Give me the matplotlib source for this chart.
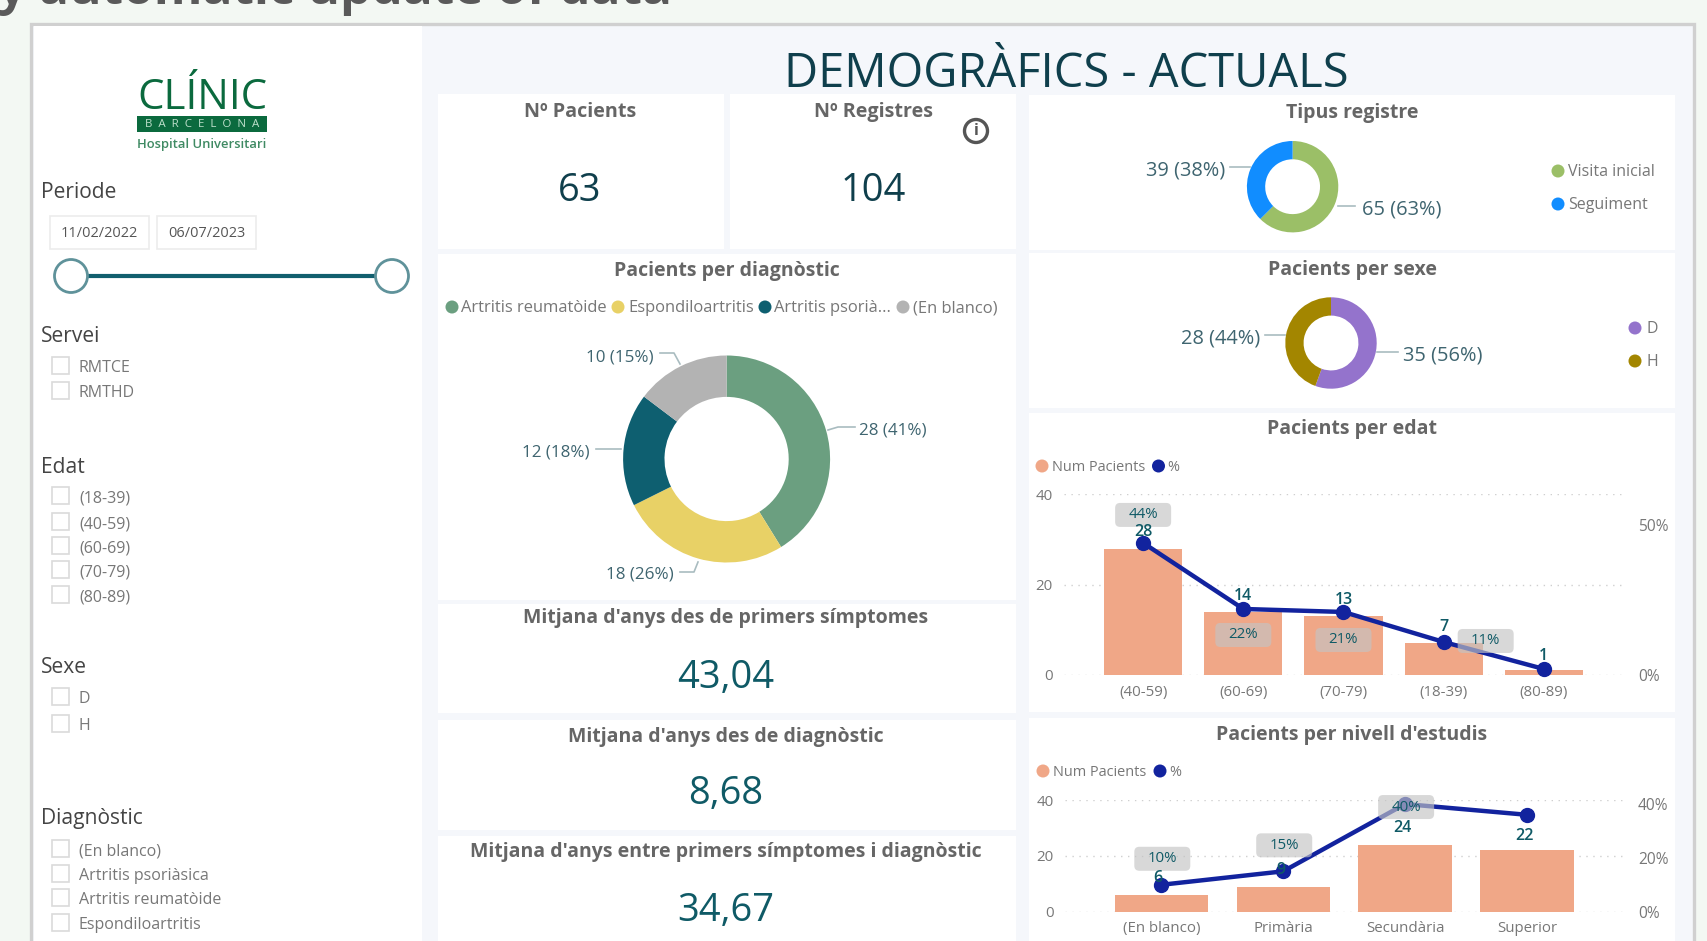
import matplotlib
matplotlib.use("Agg")
import matplotlib.pyplot as plt
from matplotlib.patches import Rectangle, FancyBboxPatch, Circle
from matplotlib.transforms import IdentityTransform

plt.rcParams['font.family'] = ['Open Sans', 'DejaVu Sans']

W, H = 1707, 941

# ----------------- data ----------------------------------#
kpi_titles = ["Nº Pacients", "Nº Registres"]
kpi_values = ["63", "104"]
avg_titles = ["Mitjana d'anys des de primers símptomes",
              "Mitjana d'anys des de diagnòstic",
              "Mitjana d'anys entre primers símptomes i diagnòstic"]
avg_values = ["43,04", "8,68", "34,67"]

diag_names = ["Artritis reumatòide", "Espondiloartritis", "Artritis psorià...", "(En blanco)"]
diag_values = [28, 18, 12, 10]
diag_pct = [41, 26, 18, 15]
diag_colors = ["#6b9f80", "#e8d166", "#0e5f70", "#b3b3b3"]

tipus_names = ["Visita inicial", "Seguiment"]
tipus_values = [65, 39]
tipus_pct = [63, 38]
tipus_colors = ["#9bbf67", "#118dff"]

sexe_names = ["D", "H"]
sexe_values = [35, 28]
sexe_pct = [56, 44]
sexe_colors = ["#9473cc", "#a38600"]

edat_cats = ["(40-59)", "(60-69)", "(70-79)", "(18-39)", "(80-89)"]
edat_num = [28, 14, 13, 7, 1]
edat_pct = [44, 22, 21, 11, 2]
edat_pct_labels = ["44%", "22%", "21%", "11%", ""]

estudis_cats = ["(En blanco)", "Primària", "Secundària", "Superior"]
estudis_num = [6, 9, 24, 22]
estudis_pct = [10, 15, 40, 36]
estudis_pct_labels = ["10%", "15%", "40%", ""]

slicer_servei = ["RMTCE", "RMTHD"]
slicer_edat = ["(18-39)", "(40-59)", "(60-69)", "(70-79)", "(80-89)"]
slicer_sexe = ["D", "H"]
slicer_diag = ["(En blanco)", "Artritis psoriàsica", "Artritis reumatòide", "Espondiloartritis"]

BAR = "#f0a787"
LINE = "#12239e"
VALUE = "#0f5a66"
TITLE = "#666666"
TICK = "#777777"


# ------------------------- helpers ---------------------------------- #
def px(size):
    return size * 0.72


def axes_px(fig, x0, y0, x1, y1, **kw):
    return fig.add_axes([x0 / W, 1 - y1 / H, (x1 - x0) / W, (y1 - y0) / H], **kw)


def label(ax, x, y, s, size, **kw):
    # Open Sans sits high when centred, push it down a bit
    kw.setdefault('va', 'center')
    kw.setdefault('zorder', 3)
    ax.text(x, y + size * 0.09, s, fontsize=px(size), **kw)


def card(ax, x0, y0, x1, y1):
    ax.add_patch(Rectangle((x0, y0), x1 - x0, y1 - y0, fc="white", ec="none", zorder=1))


def checkbox(ax, y, s):
    ax.add_patch(Rectangle((51.5, y - 8.5), 17, 17, fc="white", ec="#dadada", lw=1.2, zorder=3))
    label(ax, 79, y + 2, s, 16, color="#777777")


def legend_dot(ax, x, y, color, s, tx, size=15):
    ax.add_patch(Circle((x, y), 6.5, fc=color, ec="none", zorder=3))
    label(ax, tx, y, s, size, color="#777777")


def donut(fig, cx, cy, r, values, colors):
    ax = axes_px(fig, cx - r, cy - r, cx + r, cy + r)
    ax.pie(values, colors=colors, startangle=90, counterclock=False, radius=1,
           wedgeprops=dict(width=0.4, edgecolor="none"))
    ax.set_xlim(-1, 1)
    ax.set_ylim(-1, 1)
    ax.set_aspect('auto')
    ax.axis('off')
    ax.patch.set_alpha(0)


def donut_label(ax, x, y, text, ha, leader, size=17):
    label(ax, x, y, text, size, color="#3f6570", ha=ha, zorder=5)
    ax.plot([p[0] for p in leader], [p[1] for p in leader], color="#a9bcc0", lw=1.2, zorder=5)


def combo(fig, box, cats, num, pct, pct_labels, rmax, rticks, num_off, pct_off, xlim, width, xpad):
    ax = axes_px(fig, *box)
    ax.patch.set_alpha(0)
    pos = list(range(len(cats)))
    ax.bar(pos, num, width=width, color=BAR, zorder=2)
    ax.set_xlim(*xlim)
    ax.set_ylim(0, 40)
    ax.set_yticks([0, 20, 40])
    ax.set_xticks(pos)
    ax.set_xticklabels(cats)
    ax.tick_params(length=0, labelsize=px(15), labelcolor=TICK, pad=xpad)
    ax.tick_params(axis='y', pad=8)
    ax.grid(axis='y', color="#cfcfcf", ls=(0, (1, 4)), lw=1, zorder=0)
    for s in ax.spines.values():
        s.set_visible(False)

    ax2 = axes_px(fig, *box)
    ax2.patch.set_alpha(0)
    ax2.set_xlim(*xlim)
    ax2.set_ylim(0, rmax)
    ax2.plot(pos, pct, color=LINE, lw=3.2, marker='o', ms=10, zorder=3, clip_on=False)
    ax2.set_yticks(rticks)
    ax2.set_yticklabels([f"{t}%" for t in rticks])
    ax2.yaxis.tick_right()
    ax2.set_xticks([])
    ax2.tick_params(length=0, labelsize=px(15.5), labelcolor=TICK, pad=8)
    for s in ax2.spines.values():
        s.set_visible(False)

    for p, n, v, off in zip(pos, num, pct, num_off):
        ax2.annotate(str(n), (p, v), xytext=off, textcoords='offset pixels', ha='center', va='center',
                     fontsize=px(16), fontweight='semibold', color=VALUE, zorder=6, annotation_clip=False)
    for p, lab, v, off in zip(pos, pct_labels, pct, pct_off):
        if lab:
            x, y = ax2.transData.transform((p, v))
            ax2.add_patch(FancyBboxPatch((x + off[0] - 25, y + off[1] - 9), 50, 18,
                                         boxstyle="round,pad=3,rounding_size=5", fc="#c4c4c4", ec="none",
                                         alpha=0.65, transform=IdentityTransform(), zorder=5, clip_on=False))
            ax2.annotate(lab, (p, v), xytext=off, textcoords='offset pixels', ha='center', va='center',
                         fontsize=px(15), color=VALUE, zorder=7, annotation_clip=False)


# ------------------------- page ---------------------------------- #
fig = plt.figure(figsize=(W / 100, H / 100), dpi=100, facecolor="#f3f8f3")

bg = fig.add_axes([0, 0, 1, 1])
bg.set_xlim(0, W)
bg.set_ylim(H, 0)
bg.axis('off')

bg.text(-2, 4, "y automatic update of data", fontsize=px(49.5), fontweight='bold', color="#5a5a5a", va="baseline")
bg.add_patch(Rectangle((31, 24), 1663, H, fc="#f5f7fb", ec="#d0d0d0", lw=2.4, zorder=0.5))
bg.add_patch(Rectangle((34, 26), 387.5, H, fc="white", ec="none", zorder=1))

# main cards
card(bg, 438, 94, 724, 249)
card(bg, 730, 94, 1016, 249)
card(bg, 438, 254, 1016, 600)
card(bg, 438, 604, 1016, 713)
card(bg, 438, 720, 1016, 830)
card(bg, 438, 836, 1016, 941)
card(bg, 1029, 95, 1675, 250)
card(bg, 1029, 253, 1675, 408)
card(bg, 1029, 413, 1675, 712)
card(bg, 1029, 718, 1675, 941)

label(bg, 1066, 70, "DEMOGRÀFICS - ACTUALS", 47, color="#0f3f4c", ha="center")

# logo
label(bg, 202, 94, "CLÍNIC", 42, color="#0b6a3e", ha="center", fontweight='medium')
bg.add_patch(Rectangle((137, 116), 130, 16, fc="#0b6a3e", ec="none", zorder=3))
label(bg, 202, 123, "B  A  R  C  E  L  O  N  A", 11.5, color="#bfe0cc", ha="center", zorder=4)
label(bg, 202, 143, "Hospital Universitari", 13, fontweight='semibold', color="#3f8a63", ha="center")

# slicers
for s, y in [("Periode", 191), ("Servei", 335), ("Edat", 466), ("Sexe", 666), ("Diagnòstic", 817)]:
    label(bg, 41, y, s, 21, color="#444444")

for x0, x1, s in [(50, 149, "11/02/2022"), (157, 256, "06/07/2023")]:
    bg.add_patch(Rectangle((x0, 216), x1 - x0, 33, fc="white", ec="#ececec", lw=1.2, zorder=3))
    label(bg, (x0 + x1) / 2, 232, s, 14.5, color="#555555", ha="center", zorder=4)

bg.plot([87, 376], [276, 276], color="#115f6e", lw=3, zorder=3)
for x in [71, 392]:
    bg.add_patch(Circle((x, 276), 16.5, fc="white", ec="#5f929a", lw=2, zorder=4))

for y, s in zip([365, 390], slicer_servei):
    checkbox(bg, y, s)
for y, s in zip([495, 521.5, 545.5, 569.5, 594.5], slicer_edat):
    checkbox(bg, y, s)
for y, s in zip([696, 723], slicer_sexe):
    checkbox(bg, y, s)
for y, s in zip([848, 873, 897, 922], slicer_diag):
    checkbox(bg, y, s)

# KPI cards
for x, title, value in zip([580, 873], kpi_titles, kpi_values):
    label(bg, x, 110, title, 19.8, fontweight='bold', color=TITLE, ha="center")
    label(bg, x, 188, value, 38, color="#0f3f4c", ha="center")

bg.add_patch(Circle((976, 131), 11.5, fc="white", ec="#555555", lw=2.4, zorder=3))
label(bg, 976, 130, "i", 16, fontweight='bold', color="#555555", ha="center", zorder=4)

# averages
for ty, vy, title, value in zip([616, 735, 850], [675, 791, 908], avg_titles, avg_values):
    label(bg, 726, ty, title, 19.5, fontweight='bold', color=TITLE, ha="center")
    label(bg, 726, vy, value, 38, color=VALUE, ha="center")

# chart titles
for x, y, title in [(727, 269, "Pacients per diagnòstic"), (1352, 111, "Tipus registre"),
                    (1352, 268, "Pacients per sexe"), (1352, 427, "Pacients per edat"),
                    (1352, 733, "Pacients per nivell d'estudis")]:
    label(bg, x, y, title, 19.5, fontweight='bold', color=TITLE, ha="center")

# donuts
donut(fig, 726.6, 459, 103.5, diag_values, diag_colors)
donut(fig, 1292.6, 186.7, 45.7, tipus_values, tipus_colors)
donut(fig, 1331, 343, 45.7, sexe_values, sexe_colors)

# top layer for labels of the donuts and the legends
top = fig.add_axes([0, 0, 1, 1])
top.set_xlim(0, W)
top.set_ylim(H, 0)
top.axis('off')
top.patch.set_alpha(0)

diag_spots = [(859, 429, 'left', [(828, 430), (838, 427), (855, 427)]),
              (674, 573, 'right', [(680, 572), (694, 572), (698, 562)]),
              (590, 451, 'right', [(596, 449), (621, 449)]),
              (654, 356, 'right', [(660, 353), (674, 353), (680, 364)])]
for (x, y, ha, lead), v, p in zip(diag_spots, diag_values, diag_pct):
    donut_label(top, x, y, f"{v} ({p}%)", ha, lead)

tipus_spots = [(1362, 208, 'left', [(1338, 206), (1355, 206)]),
               (1225, 169, 'right', [(1230, 167), (1250, 167)])]
for (x, y, ha, lead), v, p in zip(tipus_spots, tipus_values, tipus_pct):
    donut_label(top, x, y, f"{v} ({p}%)", ha, lead, size=20)

sexe_spots = [(1403, 354, 'left', [(1377, 352), (1398, 352)]),
              (1260, 337, 'right', [(1265, 335), (1285, 335)])]
for (x, y, ha, lead), v, p in zip(sexe_spots, sexe_values, sexe_pct):
    donut_label(top, x, y, f"{v} ({p}%)", ha, lead, size=20)

for cx, tx, name, color in zip([452, 618, 765, 903], [461, 628, 774, 913], diag_names, diag_colors):
    legend_dot(top, cx, 307, color, name, tx, size=16.5)
for y, name, color in zip([171, 204], tipus_names, tipus_colors):
    legend_dot(top, 1558, y, color, name, 1568, size=16)
for y, name, color in zip([328, 361], sexe_names, sexe_colors):
    legend_dot(top, 1635, y, color, name, 1646, size=16)

legend_dot(top, 1042, 466, BAR, "Num Pacients", 1051.5, size=14.5)
legend_dot(top, 1158.5, 466, LINE, "%", 1167.5, size=14.5)
legend_dot(top, 1043, 771, BAR, "Num Pacients", 1053, size=14.5)
legend_dot(top, 1160, 771, LINE, "%", 1169, size=14.5)

# combo charts
combo(fig, (1064, 494.3, 1627, 675), edat_cats, edat_num, edat_pct, edat_pct_labels,
      60.2, [0, 50],
      [(0, 11), (0, 13), (0, 12), (0, 15), (0, 13)],
      [(0, 28), (0, -26), (0, -28), (42, 1), (0, 0)],
      (-0.79, 4.83), 0.78, 7)

combo(fig, (1065, 800, 1627, 911.7), estudis_cats, estudis_num, estudis_pct, estudis_pct_labels,
      41.5, [0, 20, 40],
      [(-3, 7), (-2, 1), (-3, -24), (-3, -21)],
      [(1, 26), (1, 26), (1, -3), (0, 0)],
      (-0.79, 3.82), 0.766, 7)

fig.savefig("out.png", dpi=100, facecolor=fig.get_facecolor())
